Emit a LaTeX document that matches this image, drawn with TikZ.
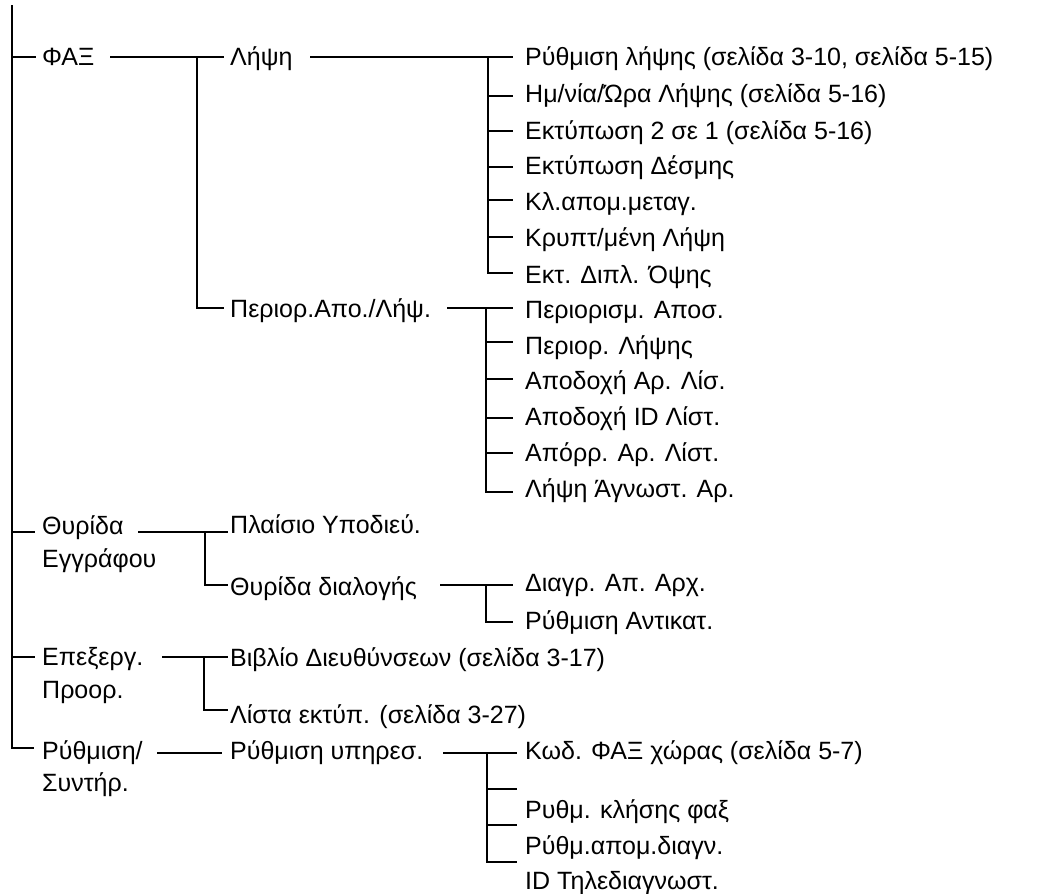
\documentclass[tikz,border=0pt]{standalone}
\usepackage{fontspec}
\setmainfont{Liberation Sans}
\begin{document}
\begin{tikzpicture}[x=1pt,y=-1pt,
  t/.style={anchor=base west,inner sep=0pt,font=\fontsize{25}{30}\selectfont},
  ln/.style={line width=2.7pt}]
\useasboundingbox (0,0) rectangle (1037,894);
% ---------- level 1 ----------
\node[t] (fax) at (42,65) {ΦΑΞ};
\node[t] (thy) at (42,534) {Θυρίδα};
\node[t] (thyb) at (42,567) {Εγγράφου};
\node[t] (epe) at (42,665) {Επεξεργ.};
\node[t] (epeb) at (42,698) {Προορ.};
\node[t] (ryth) at (42,759) {Ρύθμιση/};
\node[t] (rythb) at (42,791) {Συντήρ.};
% ---------- level 2 ----------
\node[t] (lip) at (230,65) {Λήψη};
\node[t] (per) at (230,317) {Περιορ.Απο./Λήψ.};
\node[t] (pla) at (230,533) {Πλαίσιο Υποδιεύ.};
\node[t] (dia) at (230,595) {Θυρίδα διαλογής};
\node[t] (bib) at (230,666) {Βιβλίο Διευθύνσεων (σελίδα 3-17)};
\node[t] (lis) at (230,723) {Λίστα εκτύπ. (σελίδα 3-27)};
\node[t] (ypi) at (230,759) {Ρύθμιση υπηρεσ.};
% ---------- level 3 ----------
\node[t] (a1) at (525,65) {Ρύθμιση λήψης (σελίδα 3-10, σελίδα 5-15)};
\node[t] (a2) at (525,102) {Ημ/νία/Ώρα Λήψης (σελίδα 5-16)};
\node[t] (a3) at (525,139) {Εκτύπωση 2 σε 1 (σελίδα 5-16)};
\node[t] (a4) at (525,174) {Εκτύπωση Δέσμης};
\node[t] (a5) at (525,210) {Κλ.απομ.μεταγ.};
\node[t] (a6) at (525,246) {Κρυπτ/μένη Λήψη};
\node[t] (a7) at (525,283) {Εκτ. Διπλ. Όψης};
\node[t] (b1) at (525,318) {Περιορισμ. Αποσ.};
\node[t] (b2) at (525,354) {Περιορ. Λήψης};
\node[t] (b3) at (525,389) {Αποδοχή Αρ. Λίσ.};
\node[t] (b4) at (525,425) {Αποδοχή ID Λίστ.};
\node[t] (b5) at (525,461) {Απόρρ. Αρ. Λίστ.};
\node[t] (b6) at (525,497) {Λήψη Άγνωστ. Αρ.};
\node[t] (c1) at (525,591) {Διαγρ. Απ. Αρχ.};
\node[t] (c2) at (525,629) {Ρύθμιση Αντικατ.};
\node[t] (d1) at (525,759) {Κωδ. ΦΑΞ χώρας (σελίδα 5-7)};
\node[t] (d2) at (525,818) {Ρυθμ. κλήσης φαξ};
\node[t] (d3) at (525,854) {Ρύθμ.απομ.διαγν.};
\node[t] (d4) at (525,889) {ID Τηλεδιαγνωστ.};
% ---------- coordinates ----------
\coordinate (top) at (12,5);
\coordinate (m1) at (12,57);   \coordinate (m1e) at (36,57);
\coordinate (m2) at (12,532);  \coordinate (m2e) at (35,532);
\coordinate (m3) at (12,657);  \coordinate (m3e) at (35,657);
\coordinate (m4) at (12,748);  \coordinate (m4e) at (34,748);
% fax
\coordinate (f0) at (110,57); \coordinate (fj) at (197,57); \coordinate (f1) at (224,57);
\coordinate (fb) at (197,308); \coordinate (f2) at (224,308);
% lipsi
\coordinate (l0) at (310,57); \coordinate (lj) at (488,57); \coordinate (le1) at (513,57);
\coordinate (lb) at (488,273);
\coordinate (lj2) at (488,96);  \coordinate (le2) at (513,96);
\coordinate (lj3) at (488,131); \coordinate (le3) at (513,131);
\coordinate (lj4) at (488,167); \coordinate (le4) at (513,167);
\coordinate (lj5) at (488,200); \coordinate (le5) at (513,200);
\coordinate (lj6) at (488,237); \coordinate (le6) at (513,237);
\coordinate (le7) at (513,273);
% perior
\coordinate (p0) at (447,308); \coordinate (pj) at (486,308); \coordinate (pe1) at (513,308);
\coordinate (pb) at (486,492);
\coordinate (pj2) at (486,342); \coordinate (pe2) at (513,342);
\coordinate (pj3) at (486,379); \coordinate (pe3) at (513,379);
\coordinate (pj4) at (486,418); \coordinate (pe4) at (513,418);
\coordinate (pj5) at (486,453); \coordinate (pe5) at (513,453);
\coordinate (pe6) at (513,492);
% thyrida
\coordinate (t0) at (138,532); \coordinate (tj) at (205,532); \coordinate (te1) at (228,532);
\coordinate (tb) at (205,585); \coordinate (te2) at (228,585);
\coordinate (s0) at (440,585); \coordinate (sj) at (486,585); \coordinate (se1) at (513,585);
\coordinate (sb) at (486,622); \coordinate (se2) at (513,622);
% epexerg
\coordinate (e0) at (162,657); \coordinate (ej) at (204,657); \coordinate (ee1) at (228,657);
\coordinate (eb) at (204,710); \coordinate (ee2) at (228,710);
% rythmisi
\coordinate (r0) at (157,753); \coordinate (r1) at (222,753);
\coordinate (y0) at (443,753); \coordinate (yj) at (487,753); \coordinate (ye1) at (517,753);
\coordinate (yb) at (487,862);
\coordinate (yj2) at (487,789); \coordinate (ye2) at (517,789);
\coordinate (yj3) at (487,825); \coordinate (ye3) at (517,825);
\coordinate (ye4) at (517,862);
% ---------- connectors ----------
\draw[ln] (top) -- (m4) -- (m4e);
\draw[ln] (m1) -- (m1e);
\draw[ln] (m2) -- (m2e);
\draw[ln] (m3) -- (m3e);
\draw[ln] (f0) -- (f1);
\draw[ln] (fj) -- (fb) -- (f2);
\draw[ln] (l0) -- (le1);
\draw[ln] (lj) -- (lb) -- (le7);
\foreach \i in {2,...,6} {\draw[ln] (lj\i) -- (le\i);}
\draw[ln] (p0) -- (pe1);
\draw[ln] (pj) -- (pb) -- (pe6);
\foreach \i in {2,...,5} {\draw[ln] (pj\i) -- (pe\i);}
\draw[ln] (t0) -- (te1);
\draw[ln] (tj) -- (tb) -- (te2);
\draw[ln] (s0) -- (se1);
\draw[ln] (sj) -- (sb) -- (se2);
\draw[ln] (e0) -- (ee1);
\draw[ln] (ej) -- (eb) -- (ee2);
\draw[ln] (r0) -- (r1);
\draw[ln] (y0) -- (ye1);
\draw[ln] (yj) -- (yb) -- (ye4);
\foreach \i in {2,3} {\draw[ln] (yj\i) -- (ye\i);}
\end{tikzpicture}
\end{document}
